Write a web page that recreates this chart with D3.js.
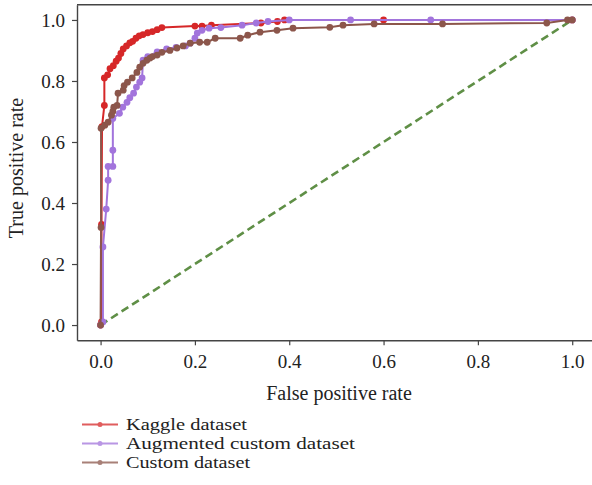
<!DOCTYPE html>
<html><head><meta charset="utf-8">
<script src="https://cdn.jsdelivr.net/npm/d3@7"></script>
<style>body{margin:0;background:#fff}svg{display:block}</style>
</head><body>
<svg id="c" width="592" height="485"></svg>
<script>
const seriesNames = ["Kaggle dataset", "Augmented custom dataset", "Custom dataset"];
const seriesColors = ["#d62728", "#a274dc", "#8c564b"];
const xTicks = [0, 0.2, 0.4, 0.6, 0.8, 1.0];
const yTicks = [0, 0.2, 0.4, 0.6, 0.8, 1.0];

const kaggleFpr = [0, 0.002, 0.002, 0.003, 0.008, 0.008, 0.015, 0.02, 0.027, 0.033, 0.038, 0.043, 0.048, 0.055, 0.062, 0.068, 0.075, 0.082, 0.09, 0.1, 0.11, 0.12, 0.13, 0.2, 0.215, 0.235, 0.34, 0.375, 0.39, 0.6, 1.0];
const kaggleTpr = [0, 0.01, 0.33, 0.65, 0.72, 0.81, 0.82, 0.84, 0.85, 0.865, 0.875, 0.89, 0.905, 0.915, 0.925, 0.93, 0.94, 0.948, 0.952, 0.958, 0.962, 0.968, 0.975, 0.98, 0.98, 0.983, 0.99, 0.995, 1.0, 1.0, 1.0];

const augFpr = [0, 0.005, 0.005, 0.012, 0.016, 0.016, 0.026, 0.026, 0.026, 0.04, 0.047, 0.056, 0.062, 0.07, 0.076, 0.083, 0.088, 0.09, 0.1, 0.12, 0.14, 0.16, 0.18, 0.19, 0.2, 0.205, 0.215, 0.23, 0.255, 0.3, 0.33, 0.355, 0.4, 0.53, 0.7, 1.0];
const augTpr = [0, 0.01, 0.256, 0.38, 0.475, 0.52, 0.52, 0.573, 0.677, 0.694, 0.714, 0.73, 0.745, 0.76, 0.78, 0.796, 0.81, 0.868, 0.88, 0.895, 0.905, 0.91, 0.915, 0.924, 0.94, 0.957, 0.966, 0.973, 0.975, 0.983, 0.99, 0.995, 1.0, 1.0, 1.0, 1.0];

const customFpr = [0, 0.001, 0.001, 0.009, 0.016, 0.023, 0.026, 0.028, 0.035, 0.037, 0.048, 0.05, 0.057, 0.067, 0.077, 0.083, 0.09, 0.098, 0.105, 0.11, 0.12, 0.13, 0.147, 0.162, 0.175, 0.19, 0.21, 0.226, 0.243, 0.296, 0.312, 0.338, 0.374, 0.408, 0.486, 0.514, 0.58, 0.725, 0.946, 0.99, 1.0];
const customTpr = [0, 0.32, 0.645, 0.655, 0.665, 0.688, 0.70, 0.714, 0.72, 0.76, 0.77, 0.785, 0.796, 0.81, 0.828, 0.845, 0.858, 0.868, 0.875, 0.88, 0.885, 0.894, 0.90, 0.908, 0.915, 0.924, 0.927, 0.927, 0.94, 0.94, 0.95, 0.96, 0.966, 0.973, 0.976, 0.983, 0.987, 0.987, 0.99, 1.0, 1.0];

const chanceFpr = [0, 1];
const chanceTpr = [0, 1];

const series = [
  {fpr: kaggleFpr, tpr: kaggleTpr},
  {fpr: augFpr, tpr: augTpr},
  {fpr: customFpr, tpr: customTpr}
];

const svg = d3.select("#c");
const font = "'Liberation Serif', 'Times New Roman', serif";
const x = d3.scaleLinear().domain([-0.05, 1.05]).range([77, 595.8]);
const y = d3.scaleLinear().domain([-0.05, 1.05]).range([340.3, 4.7]);

const line = d3.line().x(d => x(d[0])).y(d => y(d[1]));

// diagonal
svg.append("path")
  .attr("d", line(chanceFpr.map((v, i) => [v, chanceTpr[i]])))
  .attr("fill", "none").attr("stroke", "#5f8f46").attr("stroke-width", 2.6)
  .attr("stroke-dasharray", "8,4.5");

series.forEach((s, k) => {
  const pts = s.fpr.map((v, i) => [v, s.tpr[i]]);
  const g = svg.append("g");
  g.append("path").attr("d", line(pts)).attr("fill", "none")
    .attr("stroke", seriesColors[k]).attr("stroke-width", 2);
  g.selectAll("circle").data(pts).join("circle")
    .attr("cx", d => x(d[0])).attr("cy", d => y(d[1])).attr("r", 3.4)
    .attr("fill", seriesColors[k]);
});

// axes
const xAxis = d3.axisBottom(x).tickValues(xTicks).tickFormat(d3.format(".1f")).tickSizeInner(5).tickSizeOuter(0).tickPadding(9);
const yAxis = d3.axisLeft(y).tickValues(yTicks).tickFormat(d3.format(".1f")).tickSizeInner(5).tickSizeOuter(0).tickPadding(7);
const gx = svg.append("g").attr("transform", "translate(0,340.3)").call(xAxis);
const gy = svg.append("g").attr("transform", "translate(77,0)").call(yAxis);
[gx, gy].forEach(g => {
  g.select(".domain").attr("stroke", "#444").attr("stroke-width", 1.4);
  g.selectAll(".tick line").attr("stroke", "#444").attr("stroke-width", 1.2);
  g.selectAll(".tick text").attr("fill", "#222").style("font-family", font).style("font-size", "19px");
});
// top spine
svg.append("line").attr("x1", 77).attr("x2", 595.8).attr("y1", 4.7).attr("y2", 4.7)
  .attr("stroke", "#444").attr("stroke-width", 1.4);

svg.append("text").attr("x", 339).attr("y", 400).attr("text-anchor", "middle")
  .style("font-family", font).style("font-size", "20px").attr("fill", "#222")
  .text("False positive rate");
svg.append("text").attr("transform", "translate(23,168) rotate(-90)").attr("text-anchor", "middle")
  .style("font-family", font).style("font-size", "20px").attr("fill", "#222")
  .text("True positive rate");

// legend
const legY = [424.5, 443.5, 462.5];
const legWidths = [121, 229, 124];
seriesNames.forEach((n, k) => {
  const g = svg.append("g").attr("opacity", 0.75);
  g.append("line").attr("x1", 82).attr("x2", 118).attr("y1", legY[k]).attr("y2", legY[k])
    .attr("stroke", seriesColors[k]).attr("stroke-width", 2);
  g.append("circle").attr("cx", 100).attr("cy", legY[k]).attr("r", 2.5).attr("fill", seriesColors[k]);
  svg.append("text").attr("x", 126).attr("y", legY[k] + 5.5).style("font-family", font)
    .style("font-size", "16.8px").attr("fill", "#222")
    .attr("textLength", legWidths[k]).attr("lengthAdjust", "spacingAndGlyphs").text(n);
});
</script>
</body></html>
